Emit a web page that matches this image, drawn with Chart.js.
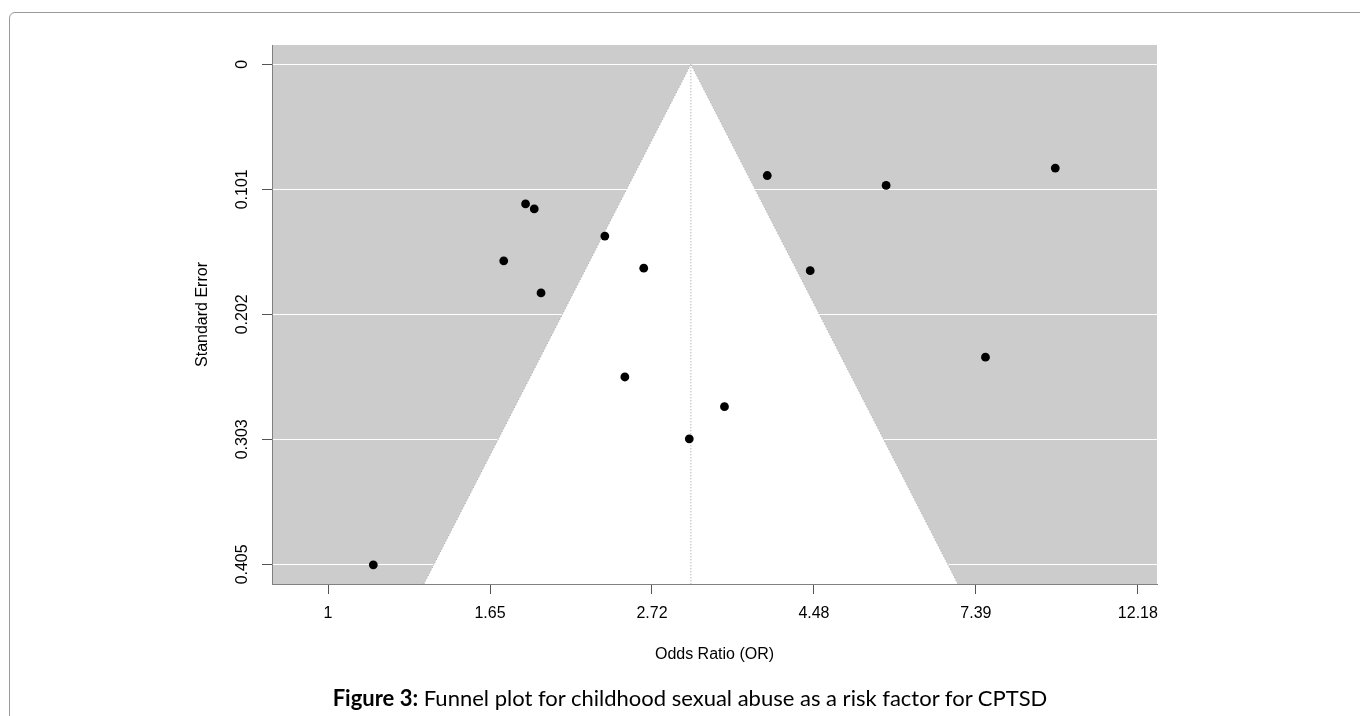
<!DOCTYPE html>
<html>
<head>
<meta charset="utf-8">
<script src="https://cdn.jsdelivr.net/npm/chart.js@4.4.1/dist/chart.umd.min.js"></script>
<style>
  html, body { margin: 0; padding: 0; background: #fff; width: 1360px; height: 716px; overflow: hidden; }
  #frame { position: absolute; left: 9px; top: 12px; width: 1400px; height: 800px;
           border: 1px solid #9a9a9a; border-radius: 6px; }
  #wrap { position: absolute; left: 0; top: 0; width: 1360px; height: 716px; }
  #caption { position: absolute; left: 0; top: 685px; width: 1380px; text-align: center;
             font-family: Lato, "Open Sans", sans-serif; font-size: 22px; line-height: 26px; color: #000; }
</style>
</head>
<body>
<div id="frame"></div>
<div id="wrap"><canvas id="funnel" width="1360" height="716"></canvas></div>
<div id="caption"><b>Figure 3:</b> Funnel plot for childhood sexual abuse as a risk factor for CPTSD</div>
<script>
// study estimates
var oddsRatios = [1.84, 1.89, 2.35, 1.72, 2.65, 1.93, 3.88, 5.60, 9.44, 4.43, 2.50, 3.05, 1.15, 3.40, 7.61];
var stdErrors  = [0.113, 0.117, 0.139, 0.159, 0.165, 0.185, 0.090, 0.098, 0.084, 0.167, 0.253, 0.303, 0.405, 0.277, 0.237];

// pooled estimate (centre of the funnel)
var pooledOR = 3.065;

// axis ticks
var xTickValues = [0, 0.5, 1, 1.5, 2, 2.5];        // log odds ratio
var xTickLabels = ['1', '1.65', '2.72', '4.48', '7.39', '12.18'];
var yTickValues = [0, 0.10115, 0.2023, 0.30345, 0.4046];
var yTickLabels = ['0', '0.101', '0.202', '0.303', '0.405'];

var xMin = -0.173, xMax = 2.559;
var yMin = -0.0156, yMax = 0.4205;

var lnPooled = Math.log(pooledOR);
var points = oddsRatios.map(function (or, i) {
    return { x: Math.log(or), y: stdErrors[i] };
});

var funnel = [
    { x: lnPooled - 1.96 * yMax, y: yMax },
    { x: lnPooled, y: 0 },
    { x: lnPooled + 1.96 * yMax, y: yMax }
];
var centreLine = [{ x: lnPooled, y: 0 }, { x: lnPooled, y: yMax }];

var axisFont = { family: '"Liberation Sans", Arial, sans-serif', size: 16, lineHeight: 1.2 };

// grey plotting region
var plotBackground = {
    id: 'plotBackground',
    beforeDraw: function (chart) {
        var a = chart.chartArea;
        var c = chart.ctx;
        c.save();
        c.fillStyle = '#cccccc';
        c.fillRect(a.left, a.top, a.right - a.left, a.bottom - a.top);
        c.restore();
    }
};

var ctx = document.getElementById('funnel').getContext('2d');
var chart = new Chart(ctx, {
    type: 'scatter',
    data: {
        datasets: [{
            data: points,
            backgroundColor: '#000000',
            borderWidth: 0,
            pointRadius: 4.4,
            order: 0
        }, {
            type: 'line',
            data: centreLine,
            borderColor: '#9a9a9a',
            borderWidth: 1,
            borderDash: [1, 2],
            pointRadius: 0,
            fill: false,
            order: 1
        }, {
            type: 'line',
            data: funnel,
            borderColor: '#aaaaaa',
            borderWidth: 1,
            borderDash: [1, 2],
            backgroundColor: '#ffffff',
            pointRadius: 0,
            tension: 0,
            fill: 'start',
            order: 2
        }]
    },
    options: {
        responsive: false,
        animation: false,
        devicePixelRatio: 1,
        layout: { padding: { top: 45, right: 203, left: 193, bottom: 52 } },
        plugins: {
            legend: { display: false },
            tooltip: { enabled: false }
        },
        scales: {
            x: {
                type: 'linear',
                min: xMin,
                max: xMax,
                afterFit: function (s) { s.height = 80; },
                afterBuildTicks: function (s) {
                    s.ticks = xTickValues.map(function (v) { return { value: v }; });
                },
                ticks: {
                    color: '#000',
                    font: axisFont,
                    padding: 10,
                    maxRotation: 0,
                    callback: function (v) {
                        var i = xTickValues.indexOf(v);
                        return i >= 0 ? xTickLabels[i] : '';
                    }
                },
                grid: { drawOnChartArea: false, drawTicks: true, tickLength: 10, tickColor: '#555555' },
                border: { display: true, color: '#808080', width: 1, z: 1 },
                title: { display: true, text: 'Odds Ratio (OR)', color: '#000', font: axisFont, padding: 0 }
            },
            y: {
                type: 'linear',
                reverse: true,
                min: yMin,
                max: yMax,
                afterFit: function (s) { s.width = 79; },
                afterBuildTicks: function (s) {
                    s.ticks = yTickValues.map(function (v) { return { value: v }; });
                },
                ticks: {
                    color: '#000',
                    font: axisFont,
                    padding: -1,
                    minRotation: 90,
                    maxRotation: 90,
                    crossAlign: 'center',
                    callback: function (v) {
                        var i = yTickValues.indexOf(v);
                        return i >= 0 ? yTickLabels[i] : '';
                    }
                },
                grid: { color: '#ffffff', lineWidth: 1, tickLength: 10, tickColor: '#555555' },
                border: { display: true, color: '#808080', width: 1, z: 1 },
                title: { display: true, text: 'Standard Error', color: '#000', font: axisFont, padding: 0 }
            }
        }
    },
    plugins: [plotBackground]
});
</script>
</body>
</html>
